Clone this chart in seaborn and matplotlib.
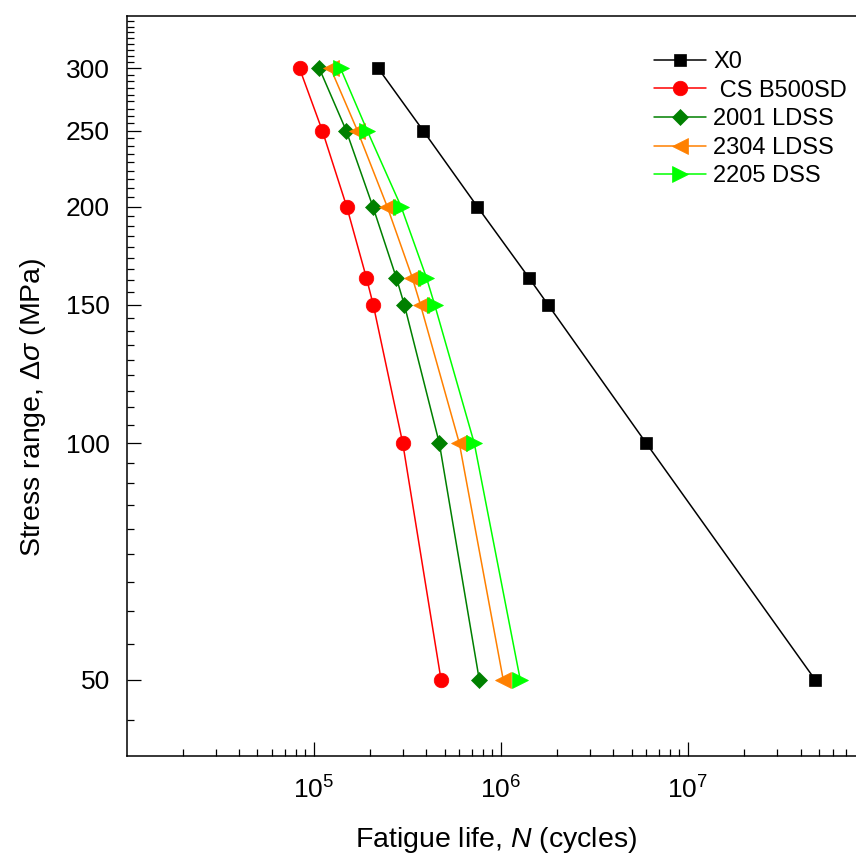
import numpy as np
import pandas as pd
import matplotlib
matplotlib.use("Agg")
import matplotlib.pyplot as plt
from matplotlib.ticker import FixedLocator, LogLocator, NullFormatter
import seaborn as sns

# Stress range levels (MPa)
stress = [300, 250, 200, 162.5, 150, 100, 50]

# Fatigue life (cycles) for each material at the stress levels above
n_x0 = [2.21e5, 3.84e5, 7.49e5, 1.41e6, 1.79e6, 5.99e6, 4.79e7]
n_cs = [8.39e4, 1.11e5, 1.50e5, 1.91e5, 2.08e5, 2.99e5, 4.79e5]
n_2001 = [1.07e5, 1.49e5, 2.07e5, 2.76e5, 3.05e5, 4.69e5, 7.67e5]
n_2304 = [1.23e5, 1.71e5, 2.47e5, 3.36e5, 3.72e5, 6.00e5, 1.03e6]
n_2205 = [1.39e5, 1.93e5, 2.93e5, 4.00e5, 4.43e5, 7.21e5, 1.27e6]

labels = ["X0", " CS B500SD", "2001 LDSS", "2304 LDSS", "2205 DSS"]
lives = [n_x0, n_cs, n_2001, n_2304, n_2205]
colors = ["#000000", "#ff0000", "#008000", "#ff8000", "#00ff00"]
markers = ["s", "o", "D", "<", ">"]
msizes = [9, 10.5, 8.5, 11.5, 11.5]

y_major = [50, 100, 150, 200, 250, 300]
x_major = [1e5, 1e6, 1e7]

frames = []
for lab, n in zip(labels, lives):
    frames.append(pd.DataFrame({"N": n, "S": stress, "series": lab}))
df = pd.concat(frames, ignore_index=True)

sns.set_style("ticks")
plt.rcParams["font.family"] = ["Liberation Sans", "DejaVu Sans"]
plt.rcParams["mathtext.fontset"] = "custom"
plt.rcParams["mathtext.rm"] = "Liberation Sans"
plt.rcParams["mathtext.it"] = "Liberation Sans:italic"
plt.rcParams["mathtext.bf"] = "Liberation Sans:bold"
plt.rcParams["text.color"] = "black"
plt.rcParams["axes.labelcolor"] = "black"
plt.rcParams["xtick.color"] = "black"
plt.rcParams["ytick.color"] = "black"
plt.rcParams["axes.edgecolor"] = "black"

fig = plt.figure(figsize=(8.56, 8.57), dpi=100)
W, H = 856, 857
left, right, top, bottom = 126.7, 875.0, 15.7, 756.0
ax = fig.add_axes([left / W, 1 - bottom / H, (right - left) / W, (bottom - top) / H])
ax.set_xscale("log")
ax.set_yscale("log")

for lab, col, mk, ms in zip(labels, colors, markers, msizes):
    sub = df[df["series"] == lab]
    sns.lineplot(data=sub, x="N", y="S", ax=ax, color=col, marker=mk,
                 markersize=ms, markeredgecolor=col, markeredgewidth=0.5,
                 linewidth=1.1, sort=False, estimator=None, label=lab)

ax.set_xlim(1e4, 1e8)
ax.set_ylim(40, 350)

# y axis: majors every 50 MPa, eight minor ticks between majors
ax.yaxis.set_major_locator(FixedLocator(y_major))
ax.set_yticklabels([str(v) for v in y_major])
y_minor = [50 + k * 50 / 9 for k in range(-1, 54) if k % 9 != 0]
ax.yaxis.set_minor_locator(FixedLocator(y_minor))
ax.yaxis.set_minor_formatter(NullFormatter())

# x axis: decades labelled as powers of ten
ax.xaxis.set_major_locator(FixedLocator(x_major))
ax.set_xticklabels([r"$10^{%d}$" % int(np.log10(v)) for v in x_major])
ax.xaxis.set_minor_locator(LogLocator(base=10, subs=np.arange(2, 10), numticks=20))
ax.xaxis.set_minor_formatter(NullFormatter())

ax.tick_params(which="both", direction="in", top=False, right=False,
               width=0.9, colors="black", labelcolor="black")
ax.tick_params(which="major", length=10)
ax.tick_params(which="minor", length=5)
ax.tick_params(axis="y", which="major", labelsize=19, pad=12)
ax.tick_params(axis="x", which="major", labelsize=19, pad=15)

for sp in ax.spines.values():
    sp.set_linewidth(1.1)
    sp.set_color("black")

ax.set_xlabel(r"Fatigue life, $N$ (cycles)", fontsize=20.5, color="black")
ax.set_ylabel(r"Stress range, $\Delta\sigma$ (MPa)", fontsize=20.5, color="black")
ax.xaxis.set_label_coords((496.5 - left) / (right - left), -(825 - bottom) / (bottom - top), transform=ax.transAxes)
ax.yaxis.set_label_coords(-(126.7 - 48) / (right - left), (bottom - 407) / (bottom - top), transform=ax.transAxes)

leg = ax.legend(loc="upper left", bbox_to_anchor=(654 / W, 1 - 51 / H),
                bbox_transform=fig.transFigure, frameon=False, fontsize=17,
                handlelength=2.2, handletextpad=0.3, labelspacing=0.28,
                borderpad=0, borderaxespad=0, labelcolor="black")

fig.savefig("out.png", dpi=100, facecolor="white")
